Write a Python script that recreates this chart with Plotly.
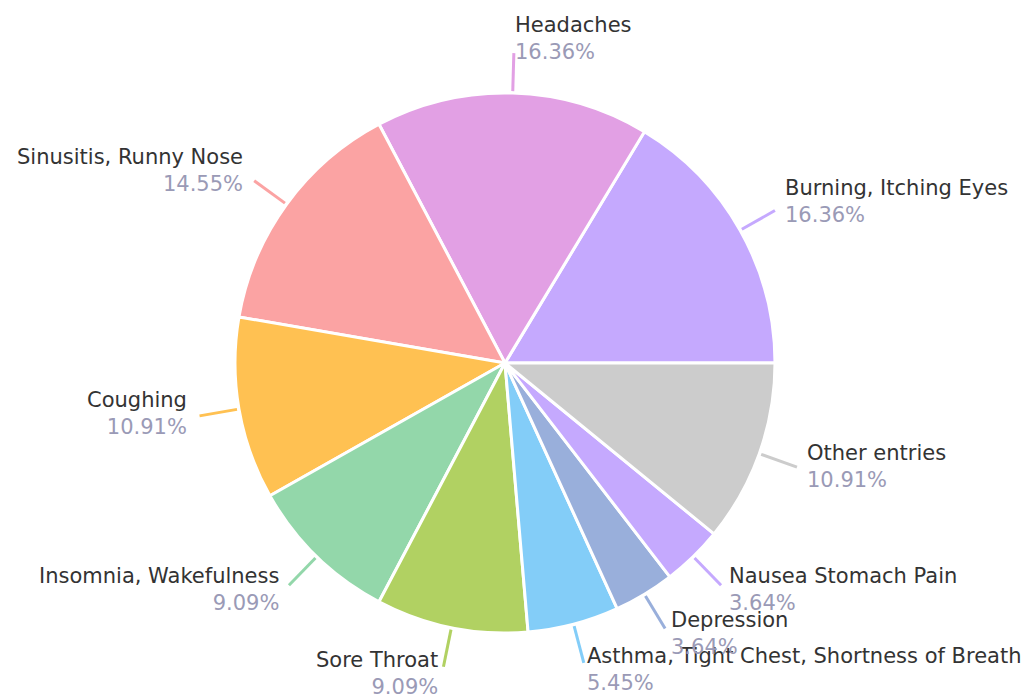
import math
import plotly.graph_objects as go

categories = ["Burning, Itching Eyes", "Headaches", "Sinusitis, Runny Nose", "Coughing",
              "Insomnia, Wakefulness", "Sore Throat", "Asthma, Tight Chest, Shortness of Breath",
              "Depression", "Nausea Stomach Pain", "Other entries"]
values = [9, 9, 8, 6, 5, 5, 3, 2, 2, 6]
colors = ["#c5a9fe", "#e2a0e4", "#fba3a3", "#ffc152", "#93d7aa", "#b1d162", "#83cdf8",
          "#99afdb", "#c5a9fe", "#cccccc"]

W, H = 1032, 694
ML, MR, MT, MB = 0, 0, 93, 61
PW, PH = W - ML - MR, H - MT - MB
dom_x = [0, 1010 / 1032]
R = min((dom_x[1] - dom_x[0]) * PW, PH) / 2  # pie radius in px

total = sum(values)
# plotly (counterclockwise) puts the END of the first slice at `rotation`;
# we want the first slice to begin at 3 o'clock
rotation = 90 - 360 * values[0] / total

fig = go.Figure(go.Pie(
    labels=categories, values=values, sort=False, direction="counterclockwise",
    rotation=rotation, textinfo="none", hoverinfo="label+percent",
    marker=dict(colors=colors, line=dict(color="white", width=3)),
    domain=dict(x=dom_x, y=[0, 1]), showlegend=False,
))

cx = ML + (dom_x[0] + dom_x[1]) / 2 * PW
cy = MT + PH / 2

def to_paper(px, py):
    return (px - ML) / PW, (H - MB - py) / PH

cum = 0
shapes, annotations = [], []
for name, v, col in zip(categories, values, colors):
    th = 2 * math.pi * (cum + v / 2) / total
    cum += v
    c, s = math.cos(th), math.sin(th)
    r1, r2 = R + 2, R + 40
    x1, y1 = cx + r1 * c, cy - r1 * s
    x2, y2 = cx + r2 * c, cy - r2 * s
    p1, p2 = to_paper(x1, y1), to_paper(x2, y2)
    shapes.append(dict(type="line", xref="paper", yref="paper", x0=p1[0], y0=p1[1],
                       x1=p2[0], y1=p2[1], line=dict(color=col, width=3)))
    pct = 100 * v / total
    right = c >= 0
    off = 10 * abs(c) + 1
    tx = x2 + off - 2 if right else x2 - off
    ty = y2 + (-4 - 11 * s)
    tp = to_paper(tx, ty)
    annotations.append(dict(
        xref="paper", yref="paper", x=tp[0], y=tp[1], showarrow=False,
        xanchor="left" if right else "right", yanchor="middle",
        align="left" if right else "right",
        text=f"{name}<br><span style='color:#9a9ab6'>{pct:.2f}%</span>",
        font=dict(family="DejaVu Sans", size=21, color="#333333"),
    ))

fig.update_layout(
    width=W, height=H, margin=dict(l=ML, r=MR, t=MT, b=MB),
    paper_bgcolor="white", plot_bgcolor="white",
    shapes=shapes, annotations=annotations,
)
fig.write_html("out.html", config={"displayModeBar": False},
               post_script="document.body.style.margin='0';")
